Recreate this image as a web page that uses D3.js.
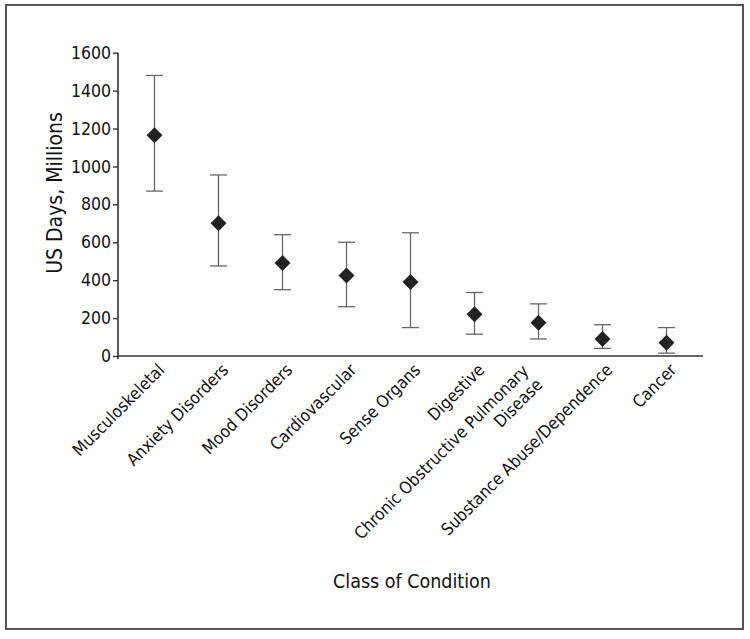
<!DOCTYPE html>
<html><head><meta charset="utf-8">
<script src="https://cdn.jsdelivr.net/npm/d3@7"></script>
<style>
html,body{margin:0;padding:0;background:#fff;}
text{font-family:"DejaVu Sans Condensed","DejaVu Sans",sans-serif;font-stretch:condensed;fill:#111;}
</style></head>
<body>
<script>
const categories = ["Musculoskeletal","Anxiety Disorders","Mood Disorders","Cardiovascular","Sense Organs","Digestive","Chronic Obstructive Pulmonary|Disease","Substance Abuse/Dependence","Cancer"];
const estimates = [1165, 700, 490, 425, 390, 220, 175, 90, 70];
const lower = [870, 475, 350, 260, 150, 115, 90, 40, 15];
const upper = [1480, 955, 640, 600, 650, 335, 275, 165, 150];
const yTicks = [0,200,400,600,800,1000,1200,1400,1600];
const yTitle = "US Days, Millions";
const xTitle = "Class of Condition";

const W = 750, H = 639;
const svg = d3.select("body").append("svg").attr("width", W).attr("height", H);

svg.append("rect").attr("x",6).attr("y",5).attr("width",737).attr("height",624)
  .attr("fill","none").attr("stroke","#555").attr("stroke-width",2);

const x = d3.scalePoint().domain(categories).range([118,703]).padding(0.57);
const y = d3.scaleLinear().domain([0,1600]).range([356,52.7]);

// y axis
const yAxis = svg.append("g").attr("transform","translate(118,0)")
  .call(d3.axisLeft(y).tickValues(yTicks).tickFormat(d3.format("d")).tickSize(5).tickPadding(2));
yAxis.select(".domain").attr("d","M0,52.7V359").attr("stroke","#333").attr("stroke-width",1.6);
yAxis.selectAll(".tick line").attr("stroke","#333").attr("stroke-width",1.4);
yAxis.selectAll(".tick text").attr("font-size",17.5).attr("font-family",null).style("fill","#111");

// x axis line
svg.append("line").attr("x1",118).attr("x2",703).attr("y1",y(0)).attr("y2",y(0))
  .attr("stroke","#333").attr("stroke-width",1.6);

// x labels
const lab = svg.append("g");
categories.forEach((c) => {
  const lines = c.split("|");
  const multi = lines.length > 1;
  const tx = multi ? x(c) - 2 : x(c) + 11;
  const ty = multi ? y(0) + 23 : y(0) + 15;
  const t = lab.append("text")
    .attr("text-anchor","end")
    .attr("font-size",17)
    .attr("transform",`translate(${tx},${ty}) rotate(-45)`);
  const off = (lines.length-1)*-0.5;
  lines.forEach((ln,i) => {
    t.append("tspan").attr("x",0).attr("dy", i===0 ? (off*1.15)+"em" : "1.15em").text(ln);
  });
});

// error bars
const g = svg.append("g");
categories.forEach((c,i) => {
  const cx = x(c);
  g.append("line").attr("x1",cx).attr("x2",cx).attr("y1",y(upper[i])).attr("y2",y(lower[i]))
    .attr("stroke","#666").attr("stroke-width",1.3);
  [upper[i], lower[i]].forEach(v => {
    g.append("line").attr("x1",cx-8.5).attr("x2",cx+8.5).attr("y1",y(v)).attr("y2",y(v))
      .attr("stroke","#666").attr("stroke-width",1.3);
  });
  g.append("path").attr("d", d3.symbol(d3.symbolSquare, 128)())
    .attr("transform",`translate(${cx},${y(estimates[i])}) rotate(45)`)
    .attr("fill","#222");
});

// titles
svg.append("text").attr("text-anchor","middle").attr("font-size",21)
  .attr("transform",`translate(62,193) rotate(-90)`).text(yTitle);
svg.append("text").attr("text-anchor","middle").attr("font-size",19.5)
  .attr("x",412).attr("y",588).text(xTitle);
</script>
</body></html>
